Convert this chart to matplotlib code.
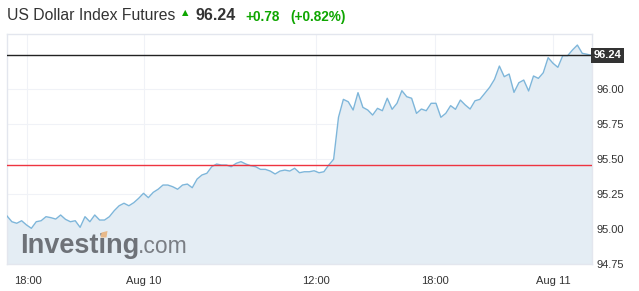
import matplotlib
matplotlib.use("Agg")
import matplotlib.pyplot as plt
import matplotlib.transforms as mtransforms
from matplotlib.patches import Polygon

# ---- data ----
prices = [95.093, 95.052, 95.041, 95.059, 95.029, 95.005, 95.052, 95.059, 95.088, 95.081,
          95.071, 95.100, 95.069, 95.052, 95.059, 95.012, 95.088, 95.052, 95.100, 95.064,
          95.064, 95.088, 95.131, 95.166, 95.184, 95.166, 95.188, 95.219, 95.255, 95.224,
          95.262, 95.284, 95.314, 95.314, 95.302, 95.284, 95.314, 95.321, 95.295, 95.357,
          95.386, 95.398, 95.445, 95.464, 95.457, 95.457, 95.445, 95.469, 95.481, 95.464,
          95.452, 95.445, 95.426, 95.426, 95.414, 95.393, 95.414, 95.421, 95.414, 95.434,
          95.402, 95.409, 95.409, 95.416, 95.402, 95.409, 95.457, 95.498, 95.798, 95.926,
          95.909, 95.850, 95.974, 95.869, 95.850, 95.814, 95.862, 95.845, 95.934, 95.855,
          95.898, 95.988, 95.945, 95.934, 95.826, 95.857, 95.845, 95.898, 95.898, 95.798,
          95.826, 95.881, 95.855, 95.921, 95.886, 95.857, 95.916, 95.926, 95.969, 96.012,
          96.069, 96.164, 96.088, 96.107, 95.976, 96.045, 96.064, 95.986, 96.093, 96.076,
          96.116, 96.224, 96.184, 96.155, 96.238, 96.238, 96.279, 96.314, 96.255, 96.248,
          96.24]
x_tick_pos = [4.2, 28.1, 63.4, 87.8, 112.0]
x_tick_labels = ["18:00", "Aug 10", "12:00", "18:00", "Aug 11"]
y_ticks = [94.75, 95.00, 95.25, 95.50, 95.75, 96.00]
last_price = 96.24
prev_close = 95.46
change = "+0.78"
change_pct = "(+0.82%)"
title = "US Dollar Index Futures"

xs = list(range(len(prices)))

W, H = 639, 291
fig = plt.figure(figsize=(W / 100, H / 100), dpi=100)
fig.patch.set_facecolor("white")
ax = fig.add_axes([7 / W, (H - 264) / H, 585 / W, 230 / H])

ymin, ymax = 94.75, 96.393
ax.set_xlim(0, len(prices) - 1)
ax.set_ylim(ymin, ymax)

# grid
for yv in y_ticks:
    ax.axhline(yv, color="#f0f2f7", lw=0.8, zorder=0)
for xv in x_tick_pos:
    ax.axvline(xv, color="#f0f2f7", lw=0.8, zorder=0)

ax.fill_between(xs, prices, ymin, color="#e4edf4", zorder=1, lw=0)
ax.plot(xs, prices, color="#7eb6da", lw=1.0, zorder=3)

ax.axhline(last_price, color="#222222", lw=1.0, zorder=4)
ax.axhline(prev_close, color="#ee3440", lw=1.0, zorder=4)

for s in ax.spines.values():
    s.set_color("#e3e6ee")
    s.set_linewidth(1.0)

ax.yaxis.tick_right()
ax.set_yticks(y_ticks)
ax.set_yticklabels([f"{v:.2f}" for v in y_ticks])
ax.set_xticks(x_tick_pos)
ax.set_xticklabels(x_tick_labels)
ax.tick_params(axis="both", length=0, labelsize=8, labelcolor="#333333",
               labelfontfamily="Liberation Sans")
ax.tick_params(axis="y", pad=3)
ax.tick_params(axis="x", pad=9)

# price label box
trans = mtransforms.blended_transform_factory(ax.transAxes, ax.transData)
ax.text(1.003, last_price, f"{last_price:.2f}", transform=trans, ha="left", va="center",
        fontsize=8, color="white", fontweight="bold", family="Liberation Sans",
        bbox=dict(boxstyle="square,pad=0.25", fc="#333333", ec="none"), zorder=6, clip_on=False)

# watermark
ax.text(13.5 / 585, 11 / 230, "Investing", transform=ax.transAxes, fontsize=19.5,
        fontweight="bold", color="#6e7278", family="Liberation Sans", ha="left",
        va="baseline", zorder=2)
ax.text(131 / 585, 11 / 230, ".com", transform=ax.transAxes, fontsize=16.5,
        color="#7a7e84", family="Liberation Sans", ha="left", va="baseline", zorder=2)
# orange accent on the logo's "i"
px = lambda x, y: ((x - 7) / 585, (264 - y) / 230)
ax.add_patch(Polygon([px(100.5, 237.5), px(106.5, 237.5), px(107.5, 231), px(101.5, 232.5)],
                     closed=True, transform=ax.transAxes, fc="#e8b98a", ec="none", zorder=2.5))

# header
fig.text(7 / W, 1 - 16 / H, title, fontsize=11.3, color="#333333",
         family="Liberation Sans", ha="left", va="center")
fig.text(182 / W, 1 - 13 / H, "\u25B2", fontsize=6, color="#0ea600",
         family="DejaVu Sans", ha="left", va="center")
fig.text(195 / W, 1 - 16 / H, f"{last_price:.2f}", fontsize=11.5, color="#333333",
         fontweight="bold", family="Liberation Sans", ha="left", va="center")
fig.text(245 / W, 1 - 17 / H, change, fontsize=9.8, color="#0ea600",
         fontweight="bold", family="Liberation Sans", ha="left", va="center")
fig.text(290 / W, 1 - 17 / H, change_pct, fontsize=9.8, color="#0ea600",
         fontweight="bold", family="Liberation Sans", ha="left", va="center")

fig.savefig("out.png", dpi=100)
